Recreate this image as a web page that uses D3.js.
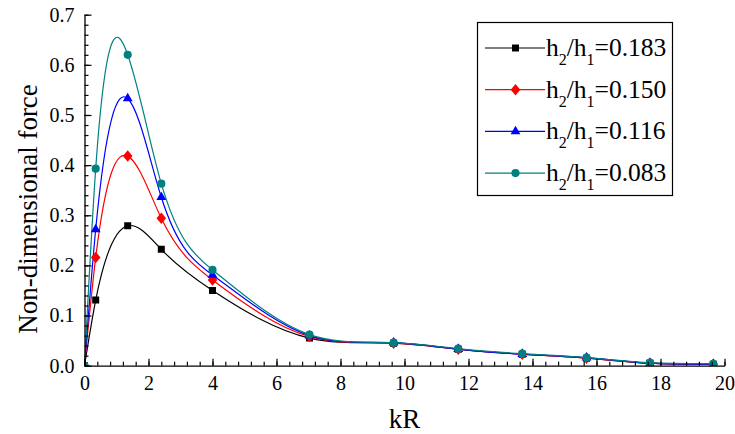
<!DOCTYPE html>
<html>
<head>
<meta charset="utf-8">
<script src="https://cdn.jsdelivr.net/npm/d3@7"></script>
<style>
  html, body { margin: 0; padding: 0; background: #fff; }
  svg, svg text { font-family: "Liberation Serif", "DejaVu Serif", serif; }
</style>
</head>
<body>
<svg id="chart" width="735" height="434"></svg>
<script>
// kR sample positions shared by every series (the first one is the origin)
const kR = [0, 0.35, 1.35, 2.4, 4.0, 7.03, 9.66, 11.68, 13.68, 15.69, 17.67, 19.65];

// non-dimensional force for each depth ratio h2/h1
const force183 = [0, 0.131, 0.279, 0.232, 0.150, 0.055, 0.045, 0.033, 0.023, 0.015, 0.005, 0.003];
const force150 = [0, 0.216, 0.418, 0.294, 0.171, 0.058, 0.045, 0.033, 0.023, 0.015, 0.005, 0.003];
const force116 = [0, 0.272, 0.533, 0.336, 0.181, 0.060, 0.046, 0.033, 0.023, 0.016, 0.005, 0.003];
const force083 = [0, 0.393, 0.620, 0.363, 0.191, 0.062, 0.046, 0.034, 0.024, 0.016, 0.006, 0.004];

const ratioLabels = ["0.183", "0.150", "0.116", "0.083"];
const seriesColors = ["#000000", "#ff0000", "#0000ff", "#008080"];

const xTicks = [0, 2, 4, 6, 8, 10, 12, 14, 16, 18, 20];
const yTicks = [0.0, 0.1, 0.2, 0.3, 0.4, 0.5, 0.6, 0.7];

// a diamond a little taller than wide
const symbolRhomb = {
  draw(ctx, size) {
    const w = Math.sqrt(size / 2.4), h = w * 1.2;
    ctx.moveTo(0, -h); ctx.lineTo(w, 0); ctx.lineTo(0, h); ctx.lineTo(-w, 0); ctx.closePath();
  }
};
const seriesSymbols = [d3.symbolSquare, symbolRhomb, d3.symbolTriangle, d3.symbolCircle];
const symbolSizes = [49, 55, 42, 52];

const seriesValues = [force183, force150, force116, force083];
const series = seriesValues.map((vals, i) => ({
  label: ratioLabels[i],
  color: seriesColors[i],
  symbol: seriesSymbols[i],
  size: symbolSizes[i],
  points: kR.map((x, j) => ({ x, y: vals[j] }))
}));

// natural cubic spline of y as a function of x, written as Bezier segments
function curveSplineX(context) {
  let xs, ys;
  return {
    areaStart() {}, areaEnd() {},
    lineStart() { xs = []; ys = []; },
    point(x, y) { xs.push(+x); ys.push(+y); },
    lineEnd() {
      const n = xs.length;
      if (!n) return;
      context.moveTo(xs[0], ys[0]);
      if (n === 1) return;
      const h = d3.range(n - 1).map(i => xs[i + 1] - xs[i]);
      const s = d3.range(n - 1).map(i => (ys[i + 1] - ys[i]) / h[i]);
      const M = new Array(n).fill(0);
      if (n > 2) {
        // tridiagonal solve for second derivatives, natural ends
        const m = n - 2, a = [], b = [], c = [], r = [];
        for (let i = 1; i <= m; i++) {
          a.push(h[i - 1]); b.push(2 * (h[i - 1] + h[i])); c.push(h[i]);
          r.push(6 * (s[i] - s[i - 1]));
        }
        for (let i = 1; i < m; i++) {
          const w = a[i] / b[i - 1];
          b[i] -= w * c[i - 1]; r[i] -= w * r[i - 1];
        }
        const sol = new Array(m);
        sol[m - 1] = r[m - 1] / b[m - 1];
        for (let i = m - 2; i >= 0; i--) sol[i] = (r[i] - c[i] * sol[i + 1]) / b[i];
        for (let i = 0; i < m; i++) M[i + 1] = sol[i];
      }
      for (let i = 0; i < n - 1; i++) {
        const d0 = s[i] - h[i] * (2 * M[i] + M[i + 1]) / 6;
        const d1 = s[i] + h[i] * (M[i] + 2 * M[i + 1]) / 6;
        const t = h[i] / 3;
        context.bezierCurveTo(xs[i] + t, ys[i] + d0 * t, xs[i + 1] - t, ys[i + 1] - d1 * t, xs[i + 1], ys[i + 1]);
      }
    }
  };
}

const svg = d3.select("#chart");
const plotLeft = 84.5, plotRight = 724.5, plotTop = 14.7, plotBottom = 365.7;

const x = d3.scaleLinear().domain([0, 20]).range([plotLeft, plotRight]);
const y = d3.scaleLinear().domain([0, 0.7]).range([plotBottom, plotTop]);

svg.append("defs").append("clipPath").attr("id", "plotclip")
  .append("rect").attr("x", plotLeft).attr("y", plotTop - 10)
  .attr("width", plotRight - plotLeft + 10).attr("height", plotBottom - plotTop + 10);

// curves and markers
const line = d3.line().x(d => x(d.x)).y(d => y(d.y)).curve(curveSplineX);
const plot = svg.append("g").attr("clip-path", "url(#plotclip)");

series.forEach(s => {
  plot.append("path")
    .attr("d", line(s.points))
    .attr("fill", "none")
    .attr("stroke", s.color)
    .attr("stroke-width", 1.2);
});
series.forEach(s => {
  plot.selectAll(null)
    .data(s.points)
    .join("path")
    .attr("transform", d => `translate(${x(d.x)},${y(d.y)})`)
    .attr("d", d3.symbol().type(s.symbol).size(s.size))
    .attr("fill", s.color);
});

// axes with inward ticks
function styleAxis(g) {
  g.attr("font-family", null).attr("font-size", null);
  g.selectAll("path.domain").attr("stroke", "#000").attr("stroke-width", 1.3);
  g.selectAll(".tick line").attr("stroke", "#000").attr("stroke-width", 1.2);
  g.selectAll(".tick text")
    .style("font-family", "'Liberation Serif', serif")
    .style("font-size", "20px")
    .attr("fill", "#000");
}

const xMinor = d3.range(0, 20.0001, 0.4).map(v => +v.toFixed(2));
svg.append("g").attr("transform", `translate(0,${plotBottom})`)
  .call(d3.axisBottom(x).tickValues(xMinor).tickSize(-4).tickFormat(""))
  .call(g => { g.select(".domain").remove(); g.selectAll(".tick line").attr("stroke", "#000").attr("stroke-width", 1.2); });
svg.append("g").attr("transform", `translate(0,${plotBottom})`)
  .call(d3.axisBottom(x).tickValues(xTicks).tickSizeInner(-7).tickSizeOuter(0).tickPadding(10).tickFormat(d3.format("d")))
  .call(styleAxis);

const yMinor = d3.range(0, 0.7001, 0.02).map(v => +v.toFixed(2));
svg.append("g").attr("transform", `translate(${plotLeft},0)`)
  .call(d3.axisLeft(y).tickValues(yMinor).tickSize(-4).tickFormat(""))
  .call(g => { g.select(".domain").remove(); g.selectAll(".tick line").attr("stroke", "#000").attr("stroke-width", 1.2); });
svg.append("g").attr("transform", `translate(${plotLeft},0)`)
  .call(d3.axisLeft(y).tickValues(yTicks).tickSizeInner(-7).tickSizeOuter(0).tickPadding(10).tickFormat(d3.format(".1f")))
  .call(styleAxis);

// axis titles
svg.append("text")
  .attr("x", x(10)).attr("y", 428)
  .attr("text-anchor", "middle")
  .style("font-size", "27px")
  .text("kR");

svg.append("text")
  .attr("transform", "translate(37,209) rotate(-90)")
  .attr("text-anchor", "middle")
  .style("font-size", "27px")
  .text("Non-dimensional force");

// legend
const legend = svg.append("g");
legend.append("rect")
  .attr("x", 477.5).attr("y", 22.5).attr("width", 195).attr("height", 173)
  .attr("fill", "#fff").attr("stroke", "#000").attr("stroke-width", 1.2);

series.forEach((s, i) => {
  const ly = 48 + i * 41.7;
  const g = legend.append("g");
  g.append("line").attr("x1", 485).attr("x2", 545).attr("y1", ly).attr("y2", ly)
    .attr("stroke", s.color).attr("stroke-width", 1.2);
  g.append("path").attr("transform", `translate(515.5,${ly})`)
    .attr("d", d3.symbol().type(s.symbol).size(s.size)).attr("fill", s.color);
  const t = g.append("text").attr("x", 546).attr("y", ly + 8).style("font-size", "25.5px");
  t.append("tspan").text("h");
  t.append("tspan").style("font-size", "16px").attr("dy", 9).text("2");
  t.append("tspan").attr("dy", -9).text("/h");
  t.append("tspan").style("font-size", "16px").attr("dy", 9).text("1");
  t.append("tspan").attr("dy", -9).text("=" + s.label);
});
</script>
</body>
</html>
